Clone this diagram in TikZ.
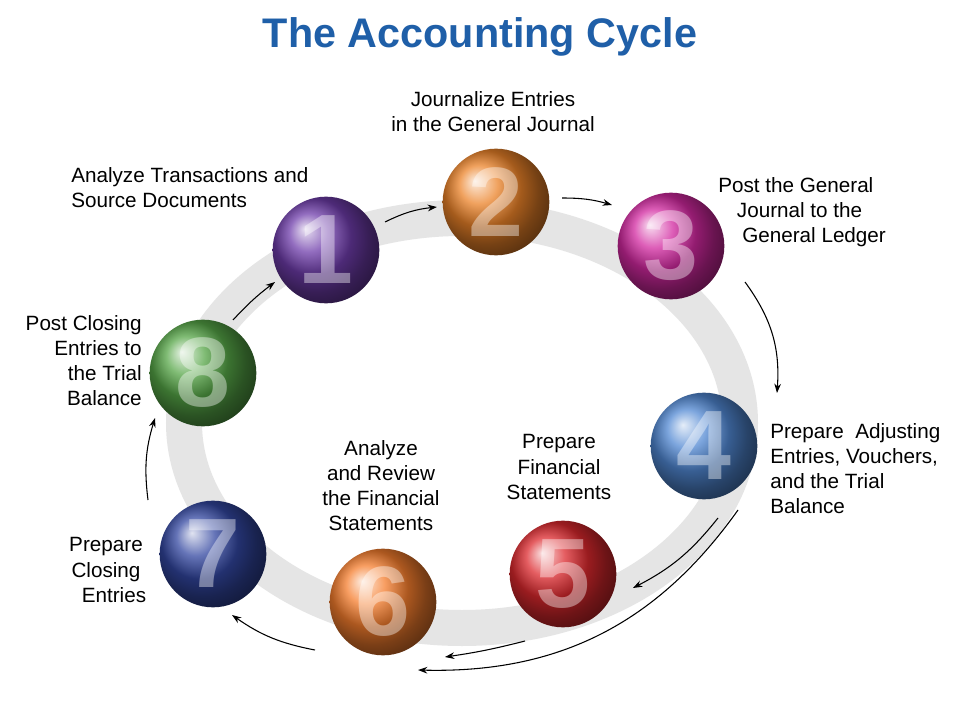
\documentclass[tikz,border=0pt]{standalone}
\usepackage{fontspec}
\setmainfont{Liberation Sans}
\usetikzlibrary{arrows.meta}
\definecolor{cTitle}{RGB}{31,95,168}
\definecolor{c1}{RGB}{110,60,170}
\definecolor{c2}{RGB}{235,130,40}
\definecolor{c3}{RGB}{210,40,160}
\definecolor{c4}{RGB}{80,135,210}
\definecolor{c5}{RGB}{220,40,45}
\definecolor{c6}{RGB}{245,125,45}
\definecolor{c7}{RGB}{50,70,160}
\definecolor{c8}{RGB}{85,165,70}
\begin{document}
\begin{tikzpicture}[x=0.75pt,y=-0.75pt,
  lbl/.style={font=\fontsize{15.5}{18.8}\selectfont,align=center,inner sep=0pt},
  ballnode/.style={circle,minimum size=80pt,inner sep=0pt,ball color=#1,
    font=\fontsize{74}{74}\bfseries\selectfont,text=white,text opacity=0.4},
  arr/.style={-{Stealth[length=7pt,width=5pt]},line width=0.8pt}]
\useasboundingbox (0,0) rectangle (960,720);
\fill[white] (0,0) rectangle (960,720);
\node[font=\fontsize{31}{34}\bfseries\selectfont,text=cTitle] (title) at (480,37) {The Accounting Cycle};
\draw[line width=27pt,gray!20] (462,423) ellipse [x radius=278, y radius=205];
\node[ballnode=c1] (b1) at (326,250) {1};
\node[ballnode=c2] (b2) at (496,202) {2};
\node[ballnode=c3] (b3) at (671,246) {3};
\node[ballnode=c4] (b4) at (704,446) {4};
\node[ballnode=c5] (b5) at (563,574) {5};
\node[ballnode=c6] (b6) at (383,602) {6};
\node[ballnode=c7] (b7) at (213,554) {7};
\node[ballnode=c8] (b8) at (203,373) {8};
\coordinate (a1s) at (385,222); \coordinate (a1e) at (437,207);
\coordinate (a2s) at (562,198); \coordinate (a2e) at (612,205);
\coordinate (a3s) at (745,282); \coordinate (a3e) at (777,393);
\coordinate (a4s) at (718,518); \coordinate (a4e) at (633,588);
\coordinate (a9s) at (738,510); \coordinate (a9e) at (418,670);
\coordinate (a5s) at (525,641); \coordinate (a5e) at (445,657);
\coordinate (a6s) at (315,650); \coordinate (a6e) at (232,615);
\coordinate (a7s) at (148,500); \coordinate (a7e) at (155,418);
\coordinate (a8s) at (233,320); \coordinate (a8e) at (275,282);
\draw[arr] (a1s) to[bend left=10] (a1e);
\draw[arr] (a2s) to[bend left=8] (a2e);
\draw[arr] (a3s) to[bend left=20] (a3e);
\draw[arr] (a4s) to[bend left=12] (a4e);
\draw[arr] (a9s) to[bend left=28] (a9e);
\draw[arr] (a5s) to[bend left=3] (a5e);
\draw[arr] (a6s) to[bend left=12] (a6e);
\draw[arr] (a7s) to[bend left=12] (a7e);
\draw[arr] (a8s) to[bend left=5] (a8e);
\node[lbl] (t2) at (493,112) {Journalize Entries\\in the General Journal};
\node[lbl,align=left,anchor=west] (t1) at (71,188) {Analyze Transactions and\\Source Documents};
\node[lbl,align=left,anchor=west] (t3) at (718,212) {Post the General\\\hspace*{14pt}Journal to the\\\hspace*{18pt}General Ledger};
\node[lbl,align=right,anchor=east] (t8) at (142,361) {Post Closing\\Entries to\\the Trial\\Balance};
\node[lbl,align=left,anchor=west] (t4) at (770,469) {Prepare\ \ Adjusting\\Entries, Vouchers,\\and the Trial\\Balance};
\node[lbl] (t6) at (381,486) {Analyze\\and Review\\the Financial\\Statements};
\node[lbl] (t5) at (559,467) {Prepare\\Financial\\Statements};
\node[lbl] (t7) at (106,570) {Prepare\\Closing\\\hspace*{12pt}Entries};
\end{tikzpicture}
\end{document}
